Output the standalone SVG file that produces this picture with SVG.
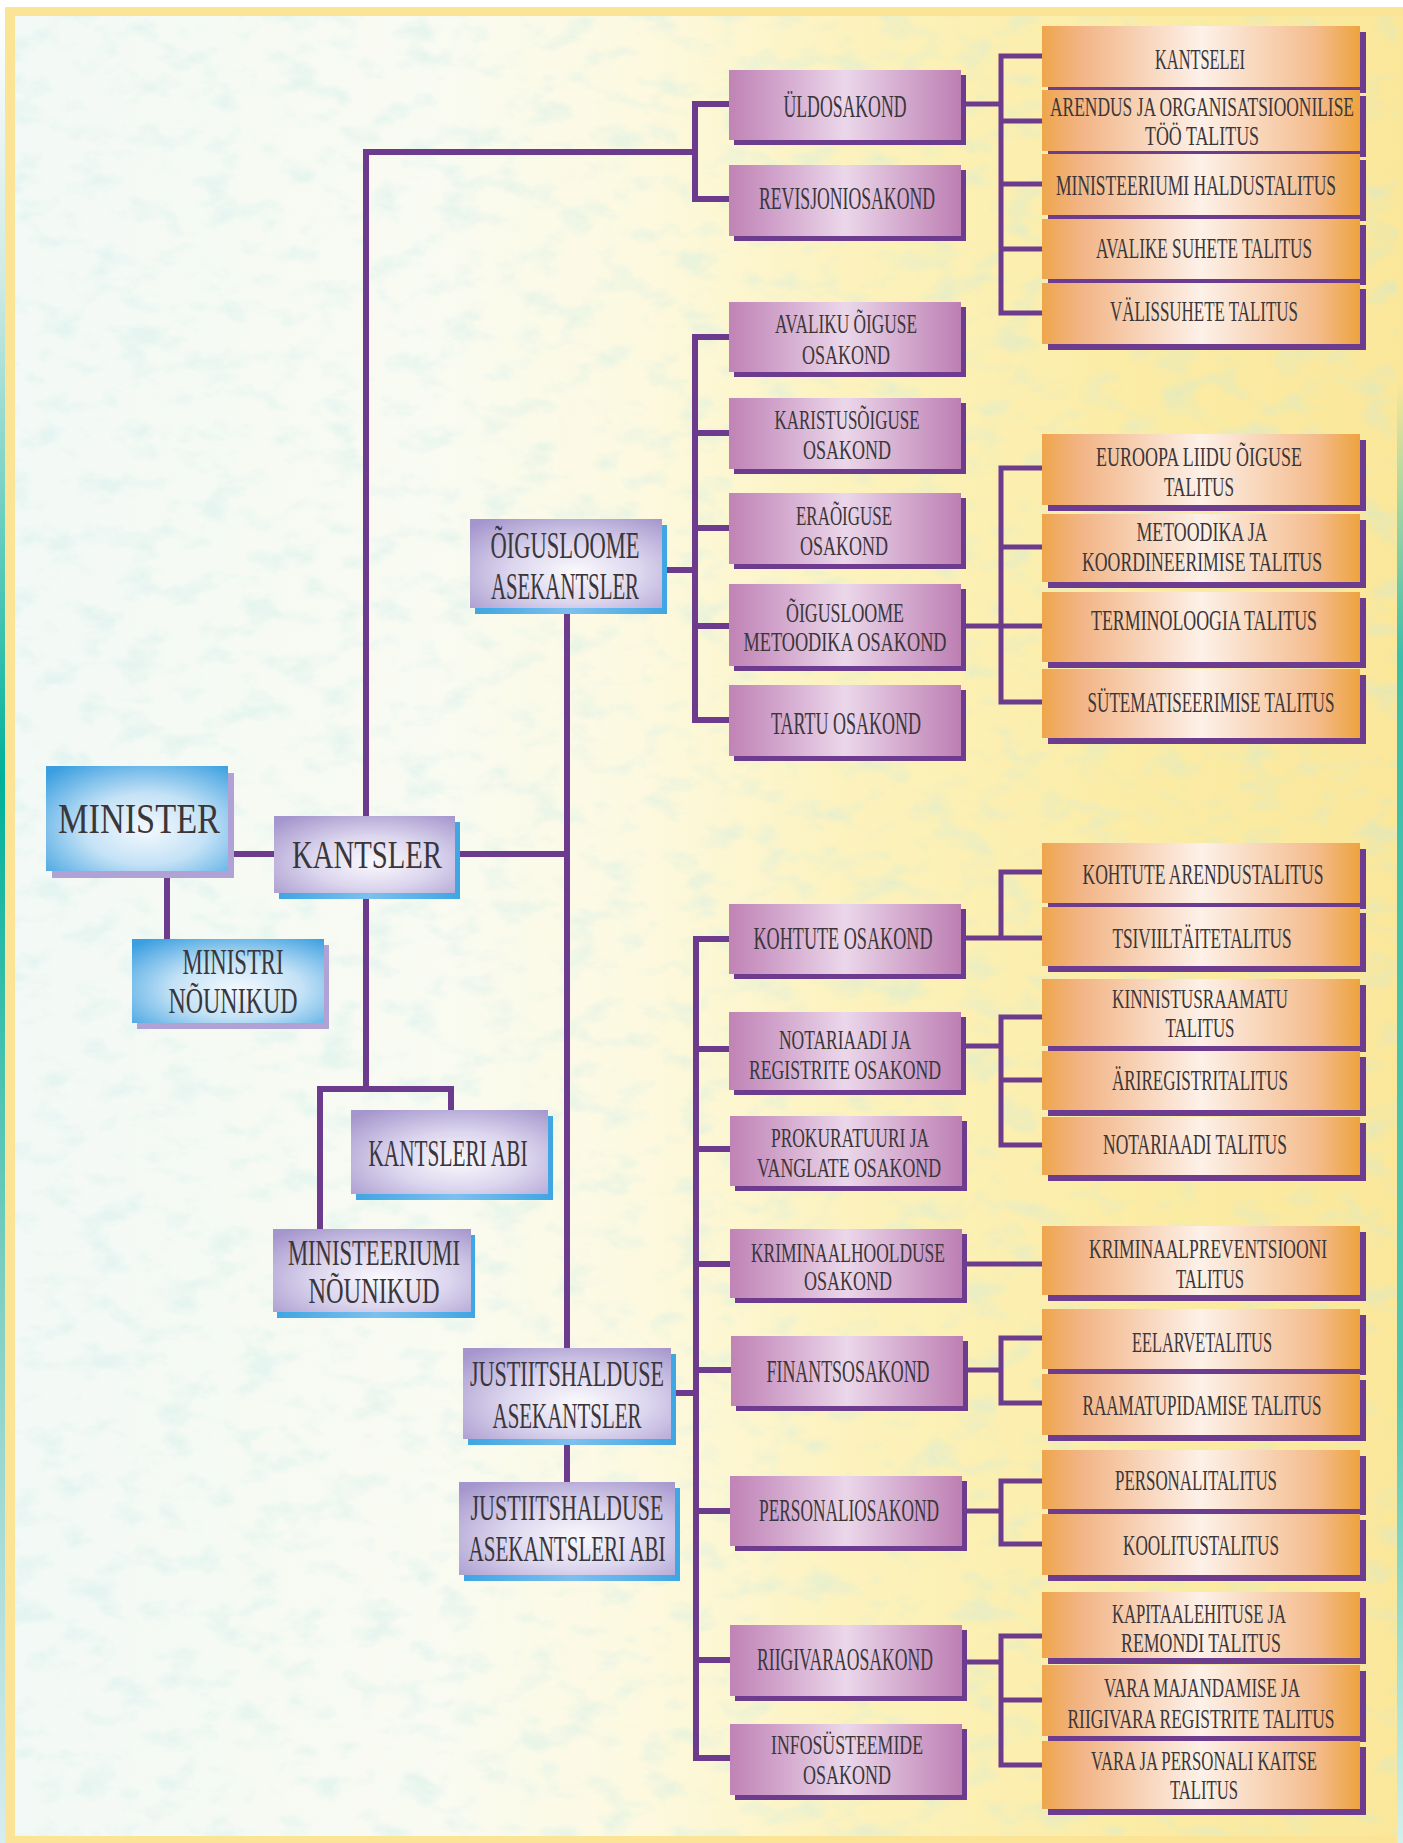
<svg xmlns="http://www.w3.org/2000/svg" width="1403" height="1843" viewBox="0 0 1403 1843">
<style>
.conn{stroke:#6c3b8d;stroke-width:6;fill:none;stroke-linejoin:miter;stroke-linecap:butt}
.conn2{stroke:#6c3b8d;stroke-width:5;fill:none;stroke-linejoin:miter;stroke-linecap:butt}
.t{font-family:"Liberation Serif","DejaVu Serif",serif;fill:#3a363a;text-anchor:middle}
.blue{fill:url(#gBlue)}
.lav{fill:url(#gLav)}
.mau{fill:url(#gMau)}
.ora{fill:url(#gOra)}
.shLilac{fill:#b0a2d4}
.shBlue{fill:url(#gShBlue)}
.shPur{fill:#6e3c8f}
</style>
<defs>
<radialGradient id="gBlue" cx="0.55" cy="0.6" r="0.75">
<stop offset="0" stop-color="#f4f9fe"/><stop offset="0.45" stop-color="#c4e2f6"/><stop offset="1" stop-color="#3a9fe0"/>
</radialGradient>
<radialGradient id="gLav" cx="0.55" cy="0.6" r="0.75">
<stop offset="0" stop-color="#fbfafd"/><stop offset="0.45" stop-color="#dcd6ee"/><stop offset="1" stop-color="#a495cc"/>
</radialGradient>
<linearGradient id="gMau" x1="0" y1="0" x2="1" y2="0">
<stop offset="0" stop-color="#c083b5"/><stop offset="0.15" stop-color="#cc9ac5"/><stop offset="0.5" stop-color="#ebd7ea"/><stop offset="0.85" stop-color="#cb99c4"/><stop offset="1" stop-color="#bd7fb2"/>
</linearGradient>
<linearGradient id="gOra" x1="0" y1="0" x2="1" y2="0">
<stop offset="0" stop-color="#eea64c"/><stop offset="0.12" stop-color="#f2b485"/><stop offset="0.5" stop-color="#fdf1e8"/><stop offset="0.86" stop-color="#f4bc8e"/><stop offset="1" stop-color="#eea33e"/>
</linearGradient>
<linearGradient id="gShBlue" x1="0" y1="0" x2="1" y2="0">
<stop offset="0" stop-color="#3ea6e3"/><stop offset="0.5" stop-color="#7cc0ee"/><stop offset="1" stop-color="#3ea6e3"/>
</linearGradient>
<linearGradient id="gBg" x1="0" y1="0" x2="1" y2="0">
<stop offset="0" stop-color="#f3f9f6"/><stop offset="0.3" stop-color="#f9fbf2"/><stop offset="0.45" stop-color="#fdf9e0"/><stop offset="0.6" stop-color="#fcf2bd"/><stop offset="0.8" stop-color="#fbeca6"/><stop offset="1" stop-color="#fae79a"/>
</linearGradient>
<linearGradient id="gLeft" x1="0" y1="0" x2="0" y2="1">
<stop offset="0" stop-color="#ffffff"/><stop offset="0.15" stop-color="#cfeae4"/><stop offset="0.42" stop-color="#00b09a"/><stop offset="0.7" stop-color="#7fcfc2"/><stop offset="1" stop-color="#d8ecf1"/>
</linearGradient>
<linearGradient id="gRight" x1="0" y1="0" x2="0" y2="1">
<stop offset="0" stop-color="#fae79a"/><stop offset="0.2" stop-color="#fae79a"/><stop offset="0.35" stop-color="#3cbfa9"/><stop offset="0.75" stop-color="#52c6b3"/><stop offset="1" stop-color="#d7efe9"/>
</linearGradient>
<filter id="tex" x="0" y="0" width="100%" height="100%">
<feTurbulence type="fractalNoise" baseFrequency="0.025 0.04" numOctaves="4" seed="7"/>
<feColorMatrix type="matrix" values="0 0 0 0 0.55  0 0 0 0 0.82  0 0 0 0 0.80  3.5 0 0 0 -1.75"/>
</filter>
</defs>

<g id="background">
<rect x="0" y="0" width="1403" height="1843" fill="#ffffff"/>
<rect x="5" y="7" width="1398" height="1836" fill="#fbe496"/>
<rect x="0" y="7" width="5" height="1836" fill="url(#gLeft)"/>
<rect x="15" y="16" width="1388" height="1820" fill="url(#gBg)"/>
<rect x="15" y="16" width="1388" height="1820" filter="url(#tex)" opacity="0.3"/>
<rect x="1397" y="16" width="6" height="1827" fill="url(#gRight)"/>
</g>

<g id="connectors">
<path class="conn" d="M226 854 H276"/>
<path class="conn" d="M167 869 V941"/>
<path class="conn" d="M366 818 V152 H695"/>
<path class="conn" d="M731 104 H695 V199 H731"/>
<path class="conn" d="M366 891 V1089"/>
<path class="conn" d="M320 1231 V1089 H451 V1112"/>
<path class="conn" d="M453 854 H567"/>
<path class="conn" d="M567 606 V1350"/>
<path class="conn" d="M567 1437 V1484"/>
<path class="conn" d="M660 570 H695"/>
<path class="conn" d="M731 337 H695 V720 H731 M695 433 H731 M695 528 H731 M695 626 H731"/>
<path class="conn" d="M669 1393 H696"/>
<path class="conn" d="M731 939 H696 V1758 H731 M696 1049 H731 M696 1149 H731 M696 1264 H731 M696 1370 H731 M696 1511 H731 M696 1660 H731"/>
<path class="conn2" d="M959 104 H1001"/>
<path class="conn2" d="M1044 56 H1001 V313 H1044 M1001 121 H1044 M1001 184 H1044 M1001 249 H1044"/>
<path class="conn2" d="M959 626 H1044"/>
<path class="conn2" d="M1044 468 H1001 V702 H1044 M1001 547 H1044"/>
<path class="conn2" d="M959 938 H1044"/>
<path class="conn2" d="M1044 872 H1001 V938"/>
<path class="conn2" d="M959 1046 H1001"/>
<path class="conn2" d="M1044 1017 H1001 V1145 H1044 M1001 1080 H1044"/>
<path class="conn2" d="M959 1264 H1044"/>
<path class="conn2" d="M959 1370 H1001"/>
<path class="conn2" d="M1044 1338 H1001 V1403 H1044"/>
<path class="conn2" d="M959 1511 H1001"/>
<path class="conn2" d="M1044 1481 H1001 V1544 H1044"/>
<path class="conn2" d="M959 1662 H1001"/>
<path class="conn2" d="M1044 1636 H1001 V1765 H1044 M1001 1700 H1044"/>
</g>

<g id="n-minister"><rect class="shLilac" x="52" y="773" width="182" height="105"/><rect class="blue" x="46" y="766" width="182" height="105"/><text class="t" x="139" y="833" font-size="42" textLength="162" lengthAdjust="spacingAndGlyphs">MINISTER</text></g>
<g id="n-ministri-nounikud"><rect class="shLilac" x="137" y="945" width="192" height="84"/><rect class="blue" x="132" y="939" width="192" height="84"/><text class="t" x="233" y="974" font-size="36" textLength="101" lengthAdjust="spacingAndGlyphs">MINISTRI</text><text class="t" x="233" y="1013" font-size="36" textLength="129" lengthAdjust="spacingAndGlyphs">NÕUNIKUD</text></g>

<g id="n-kantsler"><rect class="shBlue" x="279" y="822" width="181" height="77"/><rect class="lav" x="274" y="816" width="181" height="77"/><text class="t" x="367" y="868" font-size="40" textLength="150" lengthAdjust="spacingAndGlyphs">KANTSLER</text></g>
<g id="n-oigusloome-asekantsler"><rect class="shBlue" x="475" y="525" width="192" height="89"/><rect class="lav" x="470" y="519" width="192" height="89"/><text class="t" x="565" y="558" font-size="38" textLength="149" lengthAdjust="spacingAndGlyphs">ÕIGUSLOOME</text><text class="t" x="565" y="599" font-size="38" textLength="148" lengthAdjust="spacingAndGlyphs">ASEKANTSLER</text></g>
<g id="n-kantsleri-abi"><rect class="shBlue" x="356" y="1116" width="197" height="84"/><rect class="lav" x="351" y="1110" width="197" height="84"/><text class="t" x="448" y="1166" font-size="38" textLength="159" lengthAdjust="spacingAndGlyphs">KANTSLERI ABI</text></g>
<g id="n-ministeeriumi-nounikud"><rect class="shBlue" x="277" y="1235" width="198" height="83"/><rect class="lav" x="273" y="1229" width="198" height="83"/><text class="t" x="374" y="1265" font-size="36" textLength="172" lengthAdjust="spacingAndGlyphs">MINISTEERIUMI</text><text class="t" x="374" y="1303" font-size="36" textLength="131" lengthAdjust="spacingAndGlyphs">NÕUNIKUD</text></g>
<g id="n-justiitshalduse-asekantsler"><rect class="shBlue" x="468" y="1354" width="208" height="91"/><rect class="lav" x="463" y="1348" width="208" height="91"/><text class="t" x="567" y="1386" font-size="36" textLength="194" lengthAdjust="spacingAndGlyphs">JUSTIITSHALDUSE</text><text class="t" x="567" y="1428" font-size="36" textLength="149" lengthAdjust="spacingAndGlyphs">ASEKANTSLER</text></g>
<g id="n-justiitshalduse-asekantsleri-abi"><rect class="shBlue" x="464" y="1488" width="216" height="93"/><rect class="lav" x="459" y="1482" width="216" height="93"/><text class="t" x="567" y="1520" font-size="36" textLength="193" lengthAdjust="spacingAndGlyphs">JUSTIITSHALDUSE</text><text class="t" x="567" y="1561" font-size="36" textLength="197" lengthAdjust="spacingAndGlyphs">ASEKANTSLERI ABI</text></g>

<g id="n-uldosakond"><rect class="shPur" x="734" y="75" width="232" height="70"/><rect class="mau" x="729" y="70" width="232" height="70"/><text class="t" x="845" y="117" font-size="31" textLength="123" lengthAdjust="spacingAndGlyphs">ÜLDOSAKOND</text></g>
<g id="n-revisjoniosakond"><rect class="shPur" x="734" y="170" width="232" height="71"/><rect class="mau" x="729" y="165" width="232" height="71"/><text class="t" x="847" y="209" font-size="31" textLength="176" lengthAdjust="spacingAndGlyphs">REVISJONIOSAKOND</text></g>
<g id="n-avaliku-oiguse"><rect class="shPur" x="734" y="307" width="232" height="70"/><rect class="mau" x="729" y="302" width="232" height="70"/><text class="t" x="846" y="333" font-size="28" textLength="142" lengthAdjust="spacingAndGlyphs">AVALIKU ÕIGUSE</text><text class="t" x="846" y="364" font-size="28" textLength="88" lengthAdjust="spacingAndGlyphs">OSAKOND</text></g>
<g id="n-karistusoiguse"><rect class="shPur" x="734" y="403" width="232" height="71"/><rect class="mau" x="729" y="398" width="232" height="71"/><text class="t" x="847" y="429" font-size="28" textLength="145" lengthAdjust="spacingAndGlyphs">KARISTUSÕIGUSE</text><text class="t" x="847" y="459" font-size="28" textLength="88" lengthAdjust="spacingAndGlyphs">OSAKOND</text></g>
<g id="n-eraoiguse"><rect class="shPur" x="734" y="498" width="232" height="71"/><rect class="mau" x="729" y="493" width="232" height="71"/><text class="t" x="844" y="525" font-size="28" textLength="96" lengthAdjust="spacingAndGlyphs">ERAÕIGUSE</text><text class="t" x="844" y="555" font-size="28" textLength="88" lengthAdjust="spacingAndGlyphs">OSAKOND</text></g>
<g id="n-oigusloome-metoodika"><rect class="shPur" x="734" y="589" width="232" height="82"/><rect class="mau" x="729" y="584" width="232" height="82"/><text class="t" x="845" y="622" font-size="28" textLength="118" lengthAdjust="spacingAndGlyphs">ÕIGUSLOOME</text><text class="t" x="845" y="651" font-size="28" textLength="203" lengthAdjust="spacingAndGlyphs">METOODIKA OSAKOND</text></g>
<g id="n-tartu"><rect class="shPur" x="734" y="690" width="232" height="71"/><rect class="mau" x="729" y="685" width="232" height="71"/><text class="t" x="846" y="734" font-size="31" textLength="150" lengthAdjust="spacingAndGlyphs">TARTU OSAKOND</text></g>
<g id="n-kohtute-osakond"><rect class="shPur" x="734" y="909" width="232" height="70"/><rect class="mau" x="729" y="904" width="232" height="70"/><text class="t" x="843" y="949" font-size="31" textLength="179" lengthAdjust="spacingAndGlyphs">KOHTUTE OSAKOND</text></g>
<g id="n-notariaadi-registrite"><rect class="shPur" x="734" y="1017" width="232" height="78"/><rect class="mau" x="729" y="1012" width="232" height="78"/><text class="t" x="845" y="1049" font-size="28" textLength="132" lengthAdjust="spacingAndGlyphs">NOTARIAADI JA</text><text class="t" x="845" y="1079" font-size="28" textLength="192" lengthAdjust="spacingAndGlyphs">REGISTRITE OSAKOND</text></g>
<g id="n-prokuratuuri-vanglate"><rect class="shPur" x="735" y="1121" width="232" height="70"/><rect class="mau" x="730" y="1116" width="232" height="70"/><text class="t" x="850" y="1147" font-size="28" textLength="158" lengthAdjust="spacingAndGlyphs">PROKURATUURI JA</text><text class="t" x="849" y="1177" font-size="28" textLength="184" lengthAdjust="spacingAndGlyphs">VANGLATE OSAKOND</text></g>
<g id="n-kriminaalhoolduse"><rect class="shPur" x="735" y="1234" width="232" height="69"/><rect class="mau" x="730" y="1229" width="232" height="69"/><text class="t" x="848" y="1262" font-size="28" textLength="194" lengthAdjust="spacingAndGlyphs">KRIMINAALHOOLDUSE</text><text class="t" x="848" y="1290" font-size="28" textLength="88" lengthAdjust="spacingAndGlyphs">OSAKOND</text></g>
<g id="n-finantsosakond"><rect class="shPur" x="736" y="1341" width="232" height="70"/><rect class="mau" x="731" y="1336" width="232" height="70"/><text class="t" x="848" y="1382" font-size="31" textLength="163" lengthAdjust="spacingAndGlyphs">FINANTSOSAKOND</text></g>
<g id="n-personaliosakond"><rect class="shPur" x="735" y="1481" width="232" height="70"/><rect class="mau" x="730" y="1476" width="232" height="70"/><text class="t" x="849" y="1521" font-size="31" textLength="180" lengthAdjust="spacingAndGlyphs">PERSONALIOSAKOND</text></g>
<g id="n-riigivaraosakond"><rect class="shPur" x="735" y="1630" width="232" height="71"/><rect class="mau" x="730" y="1625" width="232" height="71"/><text class="t" x="845" y="1670" font-size="31" textLength="176" lengthAdjust="spacingAndGlyphs">RIIGIVARAOSAKOND</text></g>
<g id="n-infosusteemide"><rect class="shPur" x="735" y="1729" width="232" height="71"/><rect class="mau" x="730" y="1724" width="232" height="71"/><text class="t" x="847" y="1754" font-size="28" textLength="152" lengthAdjust="spacingAndGlyphs">INFOSÜSTEEMIDE</text><text class="t" x="847" y="1784" font-size="28" textLength="88" lengthAdjust="spacingAndGlyphs">OSAKOND</text></g>

<g id="n-kantselei"><rect class="shPur" x="1048" y="32" width="318" height="61"/><rect class="ora" x="1042" y="26" width="318" height="61"/><text class="t" x="1200" y="69" font-size="30" textLength="90" lengthAdjust="spacingAndGlyphs">KANTSELEI</text></g>
<g id="n-arendus"><rect class="shPur" x="1048" y="96" width="318" height="61"/><rect class="ora" x="1042" y="90" width="318" height="61"/><text class="t" x="1202" y="116" font-size="28" textLength="304" lengthAdjust="spacingAndGlyphs">ARENDUS JA ORGANISATSIOONILISE</text><text class="t" x="1202" y="145" font-size="28" textLength="114" lengthAdjust="spacingAndGlyphs">TÖÖ TALITUS</text></g>
<g id="n-haldustalitus"><rect class="shPur" x="1048" y="160" width="318" height="61"/><rect class="ora" x="1042" y="154" width="318" height="61"/><text class="t" x="1196" y="195" font-size="30" textLength="280" lengthAdjust="spacingAndGlyphs">MINISTEERIUMI HALDUSTALITUS</text></g>
<g id="n-avalike-suhete"><rect class="shPur" x="1048" y="225" width="318" height="60"/><rect class="ora" x="1042" y="219" width="318" height="60"/><text class="t" x="1204" y="258" font-size="30" textLength="216" lengthAdjust="spacingAndGlyphs">AVALIKE SUHETE TALITUS</text></g>
<g id="n-valissuhete"><rect class="shPur" x="1048" y="289" width="318" height="61"/><rect class="ora" x="1042" y="283" width="318" height="61"/><text class="t" x="1204" y="321" font-size="30" textLength="188" lengthAdjust="spacingAndGlyphs">VÄLISSUHETE TALITUS</text></g>
<g id="n-euroopa-liidu"><rect class="shPur" x="1048" y="440" width="318" height="71"/><rect class="ora" x="1042" y="434" width="318" height="71"/><text class="t" x="1199" y="466" font-size="28" textLength="206" lengthAdjust="spacingAndGlyphs">EUROOPA LIIDU ÕIGUSE</text><text class="t" x="1199" y="496" font-size="28" textLength="70" lengthAdjust="spacingAndGlyphs">TALITUS</text></g>
<g id="n-metoodika-koordineerimise"><rect class="shPur" x="1048" y="520" width="318" height="68"/><rect class="ora" x="1042" y="514" width="318" height="68"/><text class="t" x="1202" y="541" font-size="28" textLength="131" lengthAdjust="spacingAndGlyphs">METOODIKA JA</text><text class="t" x="1202" y="571" font-size="28" textLength="240" lengthAdjust="spacingAndGlyphs">KOORDINEERIMISE TALITUS</text></g>
<g id="n-terminoloogia"><rect class="shPur" x="1048" y="598" width="318" height="70"/><rect class="ora" x="1042" y="592" width="318" height="70"/><text class="t" x="1204" y="630" font-size="30" textLength="226" lengthAdjust="spacingAndGlyphs">TERMINOLOOGIA TALITUS</text></g>
<g id="n-sutematiseerimise"><rect class="shPur" x="1048" y="675" width="318" height="69"/><rect class="ora" x="1042" y="669" width="318" height="69"/><text class="t" x="1211" y="712" font-size="30" textLength="247" lengthAdjust="spacingAndGlyphs">SÜTEMATISEERIMISE TALITUS</text></g>
<g id="n-kohtute-arendustalitus"><rect class="shPur" x="1048" y="849" width="318" height="60"/><rect class="ora" x="1042" y="843" width="318" height="60"/><text class="t" x="1203" y="884" font-size="30" textLength="241" lengthAdjust="spacingAndGlyphs">KOHTUTE ARENDUSTALITUS</text></g>
<g id="n-tsiviiltaitetalitus"><rect class="shPur" x="1048" y="913" width="318" height="59"/><rect class="ora" x="1042" y="907" width="318" height="59"/><text class="t" x="1202" y="948" font-size="30" textLength="179" lengthAdjust="spacingAndGlyphs">TSIVIILTÄITETALITUS</text></g>
<g id="n-kinnistusraamatu"><rect class="shPur" x="1048" y="985" width="318" height="67"/><rect class="ora" x="1042" y="979" width="318" height="67"/><text class="t" x="1200" y="1008" font-size="28" textLength="176" lengthAdjust="spacingAndGlyphs">KINNISTUSRAAMATU</text><text class="t" x="1200" y="1037" font-size="28" textLength="69" lengthAdjust="spacingAndGlyphs">TALITUS</text></g>
<g id="n-ariregistritalitus"><rect class="shPur" x="1048" y="1057" width="318" height="59"/><rect class="ora" x="1042" y="1051" width="318" height="59"/><text class="t" x="1200" y="1090" font-size="30" textLength="176" lengthAdjust="spacingAndGlyphs">ÄRIREGISTRITALITUS</text></g>
<g id="n-notariaadi-talitus"><rect class="shPur" x="1048" y="1123" width="318" height="58"/><rect class="ora" x="1042" y="1117" width="318" height="58"/><text class="t" x="1195" y="1154" font-size="30" textLength="184" lengthAdjust="spacingAndGlyphs">NOTARIAADI TALITUS</text></g>
<g id="n-kriminaalpreventsiooni"><rect class="shPur" x="1048" y="1232" width="318" height="69"/><rect class="ora" x="1042" y="1226" width="318" height="69"/><text class="t" x="1208" y="1258" font-size="28" textLength="238" lengthAdjust="spacingAndGlyphs">KRIMINAALPREVENTSIOONI</text><text class="t" x="1210" y="1288" font-size="28" textLength="68" lengthAdjust="spacingAndGlyphs">TALITUS</text></g>
<g id="n-eelarvetalitus"><rect class="shPur" x="1048" y="1315" width="318" height="60"/><rect class="ora" x="1042" y="1309" width="318" height="60"/><text class="t" x="1202" y="1352" font-size="30" textLength="140" lengthAdjust="spacingAndGlyphs">EELARVETALITUS</text></g>
<g id="n-raamatupidamise"><rect class="shPur" x="1048" y="1380" width="318" height="61"/><rect class="ora" x="1042" y="1374" width="318" height="61"/><text class="t" x="1202" y="1415" font-size="30" textLength="239" lengthAdjust="spacingAndGlyphs">RAAMATUPIDAMISE TALITUS</text></g>
<g id="n-personalitalitus"><rect class="shPur" x="1048" y="1456" width="318" height="59"/><rect class="ora" x="1042" y="1450" width="318" height="59"/><text class="t" x="1196" y="1490" font-size="30" textLength="162" lengthAdjust="spacingAndGlyphs">PERSONALITALITUS</text></g>
<g id="n-koolitustalitus"><rect class="shPur" x="1048" y="1520" width="318" height="61"/><rect class="ora" x="1042" y="1514" width="318" height="61"/><text class="t" x="1201" y="1555" font-size="30" textLength="156" lengthAdjust="spacingAndGlyphs">KOOLITUSTALITUS</text></g>
<g id="n-kapitaalehituse"><rect class="shPur" x="1048" y="1598" width="318" height="66"/><rect class="ora" x="1042" y="1592" width="318" height="66"/><text class="t" x="1199" y="1623" font-size="28" textLength="174" lengthAdjust="spacingAndGlyphs">KAPITAALEHITUSE JA</text><text class="t" x="1201" y="1652" font-size="28" textLength="160" lengthAdjust="spacingAndGlyphs">REMONDI TALITUS</text></g>
<g id="n-vara-majandamise"><rect class="shPur" x="1048" y="1671" width="318" height="71"/><rect class="ora" x="1042" y="1665" width="318" height="71"/><text class="t" x="1202" y="1697" font-size="28" textLength="196" lengthAdjust="spacingAndGlyphs">VARA MAJANDAMISE JA</text><text class="t" x="1201" y="1728" font-size="28" textLength="267" lengthAdjust="spacingAndGlyphs">RIIGIVARA REGISTRITE TALITUS</text></g>
<g id="n-vara-personali-kaitse"><rect class="shPur" x="1048" y="1747" width="318" height="68"/><rect class="ora" x="1042" y="1741" width="318" height="68"/><text class="t" x="1204" y="1770" font-size="28" textLength="226" lengthAdjust="spacingAndGlyphs">VARA JA PERSONALI KAITSE</text><text class="t" x="1204" y="1799" font-size="28" textLength="68" lengthAdjust="spacingAndGlyphs">TALITUS</text></g>
</svg>
